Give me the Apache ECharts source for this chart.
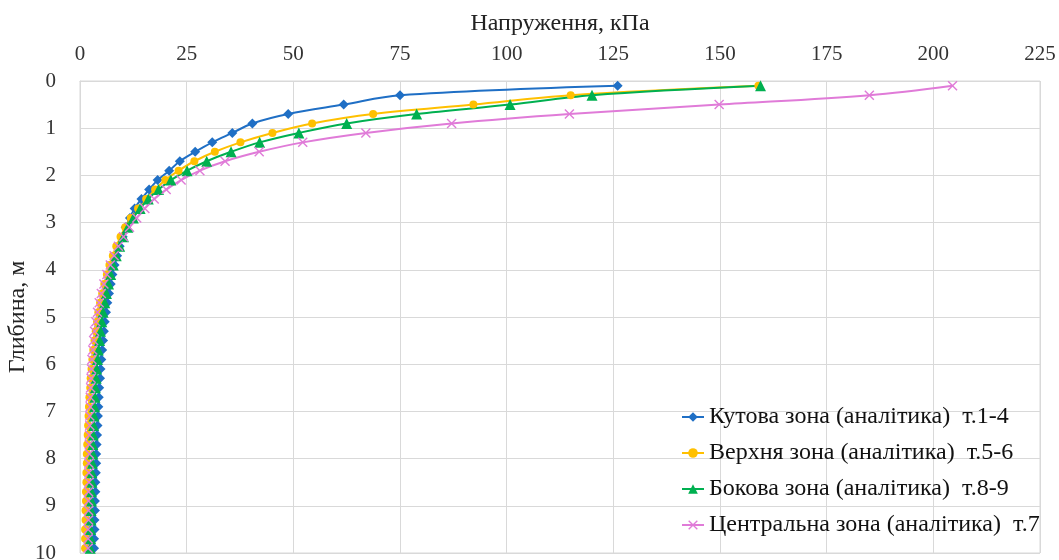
<!DOCTYPE html>
<html>
<head>
<meta charset="utf-8">
<script src="https://cdn.jsdelivr.net/npm/echarts@6/dist/echarts.min.js"></script>
<style>
  html, body { margin: 0; padding: 0; background: #fff; }
  #chart { width: 1059px; height: 560px; }
</style>
</head>
<body>
<div id="chart"></div>
<script>
// Depth of each computed point, m
const depths = [
  0.1, 0.3, 0.5, 0.7, 0.9, 1.1, 1.3, 1.5, 1.7, 1.9,
  2.1, 2.3, 2.5, 2.7, 2.9, 3.1, 3.3, 3.5, 3.7, 3.9,
  4.1, 4.3, 4.5, 4.7, 4.9, 5.1, 5.3, 5.5, 5.7, 5.9,
  6.1, 6.3, 6.5, 6.7, 6.9, 7.1, 7.3, 7.5, 7.7, 7.9,
  8.1, 8.3, 8.5, 8.7, 8.9, 9.1, 9.3, 9.5, 9.7, 9.9
];

// Vertical stress, kPa, for each zone
const cornerZone = [
  126, 75, 61.8, 48.8, 40.4, 35.7, 31.0, 27.0, 23.4, 20.9,
  18.2, 16.2, 14.4, 12.8, 11.7, 10.7, 10.0, 9.3, 8.7, 8.1,
  7.6, 7.2, 6.8, 6.4, 6.1, 5.8, 5.6, 5.4, 5.2, 5.0,
  4.8, 4.7, 4.5, 4.4, 4.3, 4.2, 4.1, 4.0, 3.9, 3.8,
  3.8, 3.7, 3.6, 3.6, 3.5, 3.5, 3.4, 3.4, 3.3, 3.3
];
const upperZone = [
  159, 115, 92.2, 68.7, 54.4, 45.1, 37.6, 31.6, 26.8, 23.1,
  20.0, 17.6, 15.5, 13.6, 11.9, 10.6, 9.5, 8.5, 7.7, 6.9,
  6.3, 5.7, 5.2, 4.7, 4.3, 4.0, 3.7, 3.4, 3.1, 2.9,
  2.7, 2.5, 2.4, 2.2, 2.1, 2.0, 1.9, 1.8, 1.7, 1.6,
  1.6, 1.5, 1.5, 1.4, 1.4, 1.3, 1.3, 1.2, 1.2, 1.2
];
const sideZone = [
  159.5, 120, 100.8, 78.9, 62.5, 51.3, 42.1, 35.4, 29.7, 25.1,
  21.3, 18.4, 16.0, 14.1, 12.5, 11.2, 10.2, 9.3, 8.5, 7.8,
  7.2, 6.7, 6.2, 5.8, 5.4, 5.1, 4.8, 4.6, 4.3, 4.1,
  3.9, 3.8, 3.6, 3.5, 3.4, 3.3, 3.2, 3.1, 3.0, 3.0,
  2.9, 2.8, 2.8, 2.7, 2.7, 2.6, 2.6, 2.5, 2.5, 2.4
];
const centralZone = [
  204.5, 185, 149.8, 114.7, 87.1, 67.0, 52.2, 42.0, 34.0, 28.1,
  23.7, 20.2, 17.4, 15.2, 13.3, 11.6, 10.2, 9.0, 8.0, 7.1,
  6.3, 5.6, 5.0, 4.5, 4.1, 3.7, 3.4, 3.2, 3.0, 2.8,
  2.7, 2.6, 2.5, 2.4, 2.4, 2.3, 2.3, 2.2, 2.2, 2.2,
  2.1, 2.1, 2.1, 2.0, 2.0, 2.0, 2.0, 1.9, 1.9, 1.9
];

const seriesNames = [
  'Кутова зона (аналітика)  т.1-4',
  'Верхня зона (аналітика)  т.5-6',
  'Бокова зона (аналітика)  т.8-9',
  'Центральна зона (аналітика)  т.7'
];
const xAxisTitle = 'Напруження, кПа';
const yAxisTitle = 'Глибина, м';

const serif = "'Liberation Serif', 'Times New Roman', serif";
const crossPath = 'path://M0,1L1,0L5,4L9,0L10,1L6,5L10,9L9,10L5,6L1,10L0,9L4,5Z';

function pairs(values) {
  return values.map((v, i) => [v, depths[i]]);
}

function lineSeries(name, values, color, symbol, size) {
  return {
    name: name,
    type: 'line',
    data: pairs(values),
    smooth: 0.35,
    symbol: symbol,
    symbolSize: size,
    showSymbol: true,
    lineStyle: { color: color, width: 2 },
    itemStyle: { color: color },
    emphasis: { disabled: true }
  };
}

const chart = echarts.init(document.getElementById('chart'), null, { renderer: 'canvas' });

chart.setOption({
  animation: false,
  backgroundColor: '#ffffff',
  grid: {
    left: 80, right: 19, top: 81, bottom: 7,
    outerBoundsMode: 'none',
    containLabel: false,
    show: true, borderColor: '#d9d9d9', borderWidth: 1
  },
  legend: {
    orient: 'vertical',
    left: 676,
    top: 400,
    itemWidth: 22,
    itemHeight: 12,
    itemGap: 12,
    textStyle: { fontFamily: serif, fontSize: 24, color: '#111' },
    data: seriesNames
  },
  xAxis: {
    type: 'value',
    position: 'top',
    min: 0, max: 225, interval: 25,
    name: xAxisTitle,
    nameLocation: 'middle',
    nameGap: 45,
    nameMoveOverlap: false,
    nameTextStyle: { fontFamily: serif, fontSize: 24, color: '#222' },
    axisLine: { show: true, lineStyle: { color: '#d9d9d9' } },
    axisTick: { show: false },
    axisLabel: { fontFamily: serif, fontSize: 21, color: '#333', margin: 16 },
    splitLine: { show: true, lineStyle: { color: '#d9d9d9', width: 1 } }
  },
  yAxis: {
    type: 'value',
    inverse: true,
    min: 0, max: 10, interval: 1,
    name: yAxisTitle,
    nameLocation: 'middle',
    nameGap: 50,
    nameMoveOverlap: false,
    nameRotate: 90,
    nameTextStyle: { fontFamily: serif, fontSize: 24, color: '#222' },
    axisLine: { show: true, lineStyle: { color: '#d9d9d9' } },
    axisTick: { show: false },
    axisLabel: { fontFamily: serif, fontSize: 21, color: '#333', margin: 24 },
    splitLine: { show: true, lineStyle: { color: '#d9d9d9', width: 1 } }
  },
  series: [
    lineSeries(seriesNames[0], cornerZone, '#1f6fc5', 'diamond', 10),
    lineSeries(seriesNames[1], upperZone, '#ffc000', 'circle', 8),
    lineSeries(seriesNames[2], sideZone, '#00b050', 'triangle', 11),
    lineSeries(seriesNames[3], centralZone, '#e07bd8', crossPath, 10)
  ]
});
</script>
</body>
</html>
